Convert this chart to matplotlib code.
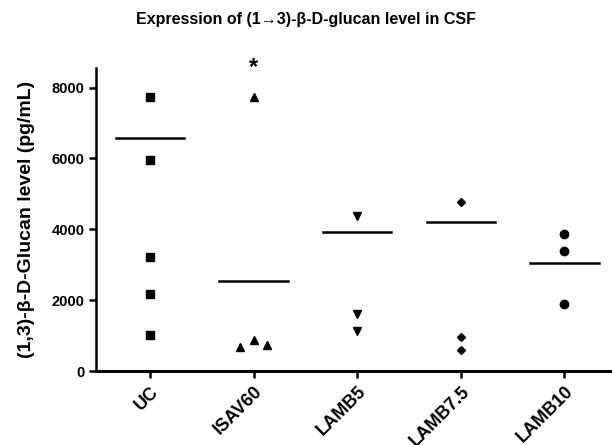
import matplotlib.pyplot as plt

plt.rcParams['font.family'] = ['Liberation Sans', 'DejaVu Sans']

groups = ['UC', 'ISAV60', 'LAMB5', 'LAMB7.5', 'LAMB10']
values = [
    [7730, 5960, 3210, 2170, 1010],
    [685, 873, 7730, 732],
    [4375, 1625, 1127],
    [4770, 958, 610],
    [3878, 3380, 1880],
]
# small x offsets for overlapping points (ISAV60 cluster)
offsets = [
    [0, 0, 0, 0, 0],
    [-0.13, 0, 0, 0.13],
    [0, 0, 0],
    [0, 0, 0],
    [0, 0, 0],
]
center_lines = [6580, 2530, 3925, 4206, 3051]
markers = ['s', '^', 'v', 'D', 'o']
msizes = [5.5, 6, 6, 4.5, 6]

fig = plt.figure(figsize=(6.12, 4.45), dpi=100)
ax = fig.add_axes([0.157, 0.166, 0.843, 0.681])

for i, vals in enumerate(values):
    xs = [i + o for o in offsets[i]]
    ax.plot(xs, vals, linestyle='none', marker=markers[i], color='black',
            markersize=msizes[i])
    ax.plot([i - 0.33, i + 0.33], [center_lines[i]] * 2, color='black', lw=1.8)

ax.text(1, 8560, '*', ha='center', va='center', fontsize=17, fontweight='bold',
        clip_on=False)

ax.set_xlim(-0.52, 4.46)
ax.set_ylim(0, 8550)
ax.set_xticks(range(len(groups)))
ax.set_xticklabels(groups, rotation=45, ha='right', rotation_mode='anchor',
                   fontsize=13, fontweight='bold')
ax.set_yticks([0, 2000, 4000, 6000, 8000])
for lbl in ax.get_yticklabels():
    lbl.set_fontweight('bold')
    lbl.set_fontsize(10.5)
ax.tick_params(direction='out', length=5, width=1.8)
ax.spines['top'].set_visible(False)
ax.spines['right'].set_visible(False)
ax.spines['left'].set_linewidth(1.8)
ax.spines['bottom'].set_linewidth(2.2)

ax.set_ylabel('(1,3)-β-D-Glucan level (pg/mL)', fontsize=14, fontweight='bold',
              labelpad=12)
fig.text(0.5, 0.957, 'Expression of (1→3)-β-D-glucan level in CSF',
         ha='center', va='center', fontsize=11.5, fontweight='bold')

fig.savefig('out.png', dpi=100)
